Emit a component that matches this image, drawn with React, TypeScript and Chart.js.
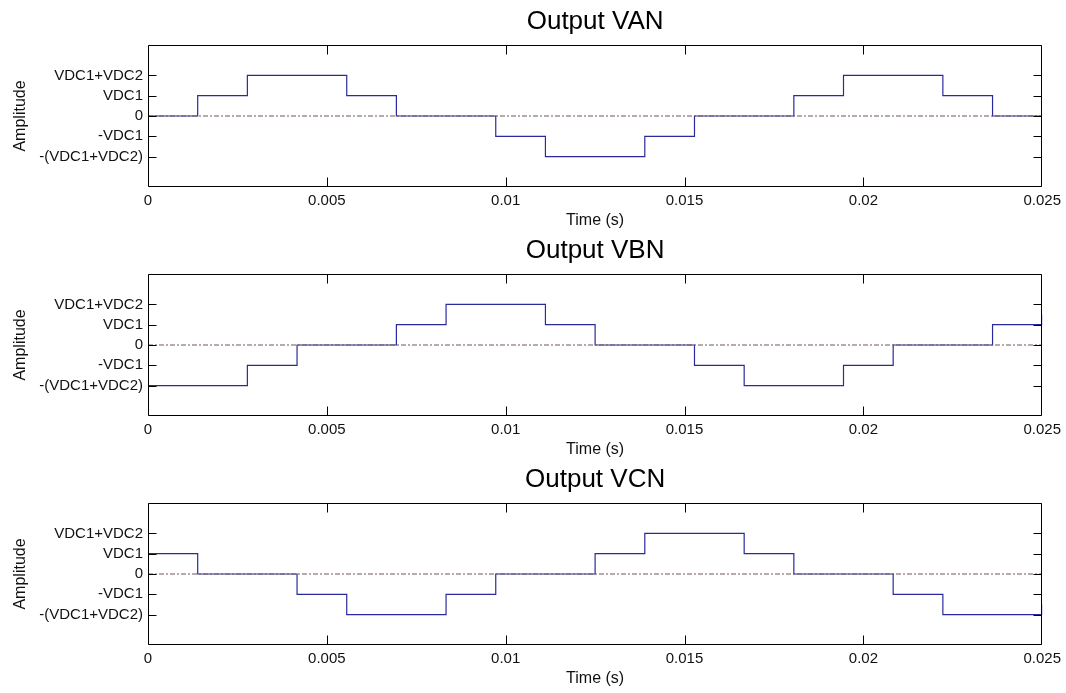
import React, { useEffect, useRef } from "react";
import { Chart, registerables } from "chart.js";

Chart.register(...registerables);

const FONT = "'Liberation Sans', Arial, Helvetica, sans-serif";

const X_MIN = 0;
const X_MAX = 0.025;
const Y_MIN = -3.5;
const Y_MAX = 3.5;

const xTickValues = [0, 0.005, 0.01, 0.015, 0.02, 0.025];
const xTickLabels = ["0", "0.005", "0.01", "0.015", "0.02", "0.025"];
const yTickValues = [2, 1, 0, -1, -2];
const yTickLabels = ["VDC1+VDC2", "VDC1", "0", "-VDC1", "-(VDC1+VDC2)"];

const titles = ["Output VAN", "Output VBN", "Output VCN"];

// switching instants (s) and the level held from each instant onward
const vanTimes = [0, 0.001389, 0.002778, 0.005556, 0.006944, 0.009722, 0.011111, 0.013889, 0.015278, 0.018056, 0.019444, 0.022222, 0.023611, 0.025];
const vanLevels = [0, 1, 2, 1, 0, -1, -2, -1, 0, 1, 2, 1, 0, 0];

const vbnTimes = [0, 0.002778, 0.004167, 0.006944, 0.008333, 0.011111, 0.0125, 0.015278, 0.016667, 0.019444, 0.020833, 0.023611, 0.025];
const vbnLevels = [-2, -1, 0, 1, 2, 1, 0, -1, -2, -1, 0, 1, 1.5];

const vcnTimes = [0, 0.001389, 0.004167, 0.005556, 0.008333, 0.009722, 0.0125, 0.013889, 0.016667, 0.018056, 0.020833, 0.022222, 0.025];
const vcnLevels = [1, 0, -1, -2, -1, 0, 1, 2, 1, 0, -1, -2, -1.5];

const refTimes = [X_MIN, X_MAX];
const refLevels = [0, 0];

const series = [
  { times: vanTimes, levels: vanLevels },
  { times: vbnTimes, levels: vbnLevels },
  { times: vcnTimes, levels: vcnLevels },
];

const CANVAS_W = 1066;
const CANVAS_H = 229;

const boxTicksPlugin = {
  id: "boxTicks",
  afterDatasetsDraw(chart: any) {
    const { ctx, chartArea: a, scales } = chart;
    const xs = scales.x;
    const ys = scales.y;
    const L = Math.round(a.left) + 0.5;
    const R = Math.round(a.right) - 0.5;
    const T = Math.round(a.top) + 0.5;
    const B = Math.round(a.bottom) - 0.5;
    ctx.save();
    ctx.strokeStyle = "#000";
    ctx.lineWidth = 1;
    ctx.beginPath();
    ctx.rect(L, T, R - L, B - T);
    xs.ticks.forEach((t: any) => {
      let px = Math.round(xs.getPixelForValue(t.value)) + 0.5;
      px = Math.min(Math.max(px, L), R);
      ctx.moveTo(px, B);
      ctx.lineTo(px, B - 9);
      ctx.moveTo(px, T);
      ctx.lineTo(px, T + 9);
    });
    ys.ticks.forEach((t: any) => {
      const py = Math.round(ys.getPixelForValue(t.value)) + 0.5;
      ctx.moveTo(L, py);
      ctx.lineTo(L + 8, py);
      ctx.moveTo(R, py);
      ctx.lineTo(R - 8, py);
    });
    ctx.stroke();
    ctx.restore();
  },
};

function Panel({ index }: { index: number }) {
  const ref = useRef<HTMLCanvasElement | null>(null);
  useEffect(() => {
    if (!ref.current) return;
    const s = series[index];
    const chart = new Chart(ref.current, {
      type: "line",
      data: {
        datasets: [
          {
            data: refTimes.map((t, i) => ({ x: t, y: refLevels[i] })),
            borderColor: "#6e5656",
            borderWidth: 1,
            borderDash: [5, 2, 2, 2],
            pointRadius: 0,
            order: 0,
          },
          {
            data: s.times.map((t, i) => ({ x: t, y: s.levels[i] })),
            borderColor: "#2a2a9c",
            borderWidth: 1.2,
            stepped: "before",
            pointRadius: 0,
            order: 1,
          },
        ],
      },
      options: {
        responsive: false,
        animation: false,
        devicePixelRatio: 1,
        layout: { padding: { left: 0, right: 23, top: 0, bottom: 0 } },
        plugins: {
          legend: { display: false },
          tooltip: { enabled: false },
          title: {
            display: true,
            fullSize: false,
            text: titles[index],
            color: "#000",
            font: { family: FONT, size: 26, weight: "normal", lineHeight: 1.2 },
            padding: { top: 6, bottom: 7.8 },
          },
        },
        scales: {
          x: {
            type: "linear",
            min: X_MIN,
            max: X_MAX,
            grid: { display: false, drawTicks: false },
            border: { display: false },
            afterBuildTicks: (sc: any) => {
              sc.ticks = xTickValues.map((v) => ({ value: v }));
            },
            afterFit: (sc: any) => {
              sc.height = 42;
            },
            ticks: {
              autoSkip: false,
              maxRotation: 0,
              padding: 5,
              color: "#111",
              font: { family: FONT, size: 15 },
              callback: (v: any) => xTickLabels[xTickValues.indexOf(Number(v))] ?? "",
            },
            title: {
              display: true,
              text: "Time (s)",
              color: "#111",
              font: { family: FONT, size: 16, lineHeight: 1 },
              padding: { top: 0, bottom: 0 },
            },
          },
          y: {
            type: "linear",
            min: Y_MIN,
            max: Y_MAX,
            grid: { display: false, drawTicks: false },
            border: { display: false },
            afterBuildTicks: (sc: any) => {
              sc.ticks = yTickValues.map((v) => ({ value: v }));
            },
            afterFit: (sc: any) => {
              sc.width = 148;
            },
            ticks: {
              autoSkip: false,
              padding: 5,
              color: "#111",
              font: { family: FONT, size: 15 },
              callback: (v: any) => yTickLabels[yTickValues.indexOf(Number(v))] ?? "",
            },
            title: {
              display: true,
              text: "Amplitude",
              color: "#111",
              font: { family: FONT, size: 16, lineHeight: 1.2 },
              padding: { top: 10.5, bottom: 0 },
            },
          },
        },
      } as any,
      plugins: [boxTicksPlugin],
    });
    return () => chart.destroy();
  }, [index]);
  return (
    <canvas
      ref={ref}
      width={CANVAS_W}
      height={CANVAS_H}
      style={{ position: "absolute", left: 0, top: index * CANVAS_H, width: CANVAS_W, height: CANVAS_H }}
    />
  );
}

export default function App() {
  return (
    <div style={{ position: "absolute", left: 0, top: 0, width: 1066, height: 693, background: "#fff" }}>
      {[0, 1, 2].map((i) => (
        <Panel key={i} index={i} />
      ))}
    </div>
  );
}
